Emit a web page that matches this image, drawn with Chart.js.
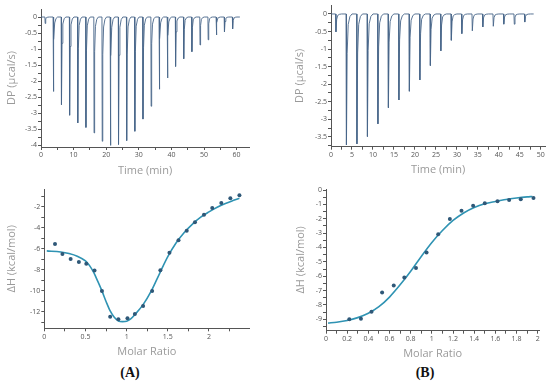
<!DOCTYPE html>
<html>
<head>
<meta charset="utf-8">
<script src="https://cdn.jsdelivr.net/npm/chart.js@4.4.0/dist/chart.umd.min.js"></script>
<style>
  body { margin: 0; background: #fff; width: 550px; height: 385px; position: relative; overflow: hidden; }
  canvas { position: absolute; }
  .tag { position: absolute; font: bold 14px "Liberation Serif", serif; color: #111; transform: translate(-50%, -50%); }
</style>
</head>
<body>
<canvas id="rawA" width="260" height="180" style="left:0;top:0"></canvas>
<canvas id="rawB" width="280" height="180" style="left:270px;top:0"></canvas>
<canvas id="isoA" width="260" height="185" style="left:0;top:180px"></canvas>
<canvas id="isoB" width="260" height="185" style="left:290px;top:180px"></canvas>
<div class="tag" style="left:130px;top:373px">(A)</div>
<div class="tag" style="left:425px;top:373px">(B)</div>
<script>
// Raw thermograms: injection times (min) and peak heights (µcal/s)
const rawATimes = [1.2, 3.7, 6.2, 8.7, 11.2, 13.7, 16.2, 18.7, 21.2, 23.7, 26.2, 28.7,
                   31.2, 33.7, 36.2, 38.7, 41.2, 43.7, 46.2, 48.7, 51.2, 53.7, 56.2, 58.7];
const rawADepths = [-0.2, -2.32, -2.73, -3.06, -3.3, -3.44, -3.61, -3.87, -4.0, -3.97, -3.85, -3.56,
                    -3.18, -2.78, -2.25, -1.9, -1.54, -1.3, -1.08, -0.87, -0.71, -0.56, -0.46, -0.37];
const rawBTimes = [1.1, 3.6, 6.1, 8.6, 11.1, 13.6, 16.1, 18.6, 21.1, 23.6,
                   26.1, 28.6, 31.1, 33.6, 36.1, 38.6, 41.1, 43.6, 46.1];
const rawBDepths = [-0.51, -3.73, -3.7, -3.49, -3.13, -2.67, -2.45, -2.2, -1.88, -1.47,
                    -1.05, -0.75, -0.56, -0.48, -0.37, -0.35, -0.29, -0.29, -0.23];
// shape of one injection peak: [minutes after injection, fraction of peak height]
const spikeShape = [[0, 0], [0.08, 1], [0.25, 0.3], [0.5, 0.08], [0.9, 0.02], [1.4, 0]];

// Integrated heats
const isoARatio = [0.13, 0.22, 0.32, 0.42, 0.51, 0.61, 0.70, 0.80, 0.90, 1.01, 1.10, 1.20,
                   1.31, 1.41, 1.52, 1.63, 1.73, 1.83, 1.94, 2.04, 2.15, 2.26, 2.37];
const isoAHeat = [-5.54, -6.49, -6.97, -7.25, -7.41, -8.07, -10.0, -12.45, -12.7, -12.6, -12.19, -11.43,
                  -10.0, -8.04, -6.37, -5.19, -4.28, -3.48, -2.76, -2.12, -1.65, -1.2, -0.92];
const fitARatio = [0.03, 0.2, 0.3, 0.4, 0.5, 0.55, 0.6, 0.65, 0.7, 0.75, 0.8, 0.85, 0.9, 0.95, 1.0,
                   1.05, 1.1, 1.2, 1.3, 1.4, 1.5, 1.6, 1.7, 1.8, 1.9, 2.0, 2.1, 2.2, 2.3, 2.37];
const fitAHeat = [-6.2, -6.3, -6.45, -6.7, -7.15, -7.6, -8.25, -9.1, -10.0, -11.0, -11.9, -12.5, -12.85, -12.92, -12.88,
                  -12.65, -12.25, -11.3, -10.0, -8.35, -6.75, -5.45, -4.45, -3.65, -3.0, -2.5, -2.05, -1.7, -1.4, -1.2];

const isoBRatio = [0.22, 0.33, 0.43, 0.53, 0.64, 0.74, 0.85, 0.95, 1.06, 1.17, 1.28, 1.39, 1.50, 1.62, 1.73, 1.84, 1.96];
const isoBHeat = [-9.0, -8.96, -8.47, -7.13, -6.64, -6.09, -5.42, -4.35, -3.08, -2.01, -1.44, -1.09, -0.93, -0.79, -0.69, -0.65, -0.56];
const fitBRatio = [0.02, 0.1, 0.2, 0.3, 0.4, 0.5, 0.6, 0.7, 0.8, 0.9, 1.0, 1.1, 1.2, 1.3, 1.4, 1.5, 1.6, 1.7, 1.8, 1.9, 1.95];
const fitBHeat = [-9.26, -9.2, -9.08, -8.88, -8.58, -8.12, -7.45, -6.6, -5.65, -4.62, -3.65, -2.82, -2.12, -1.6, -1.22, -0.96, -0.8, -0.66, -0.56, -0.48, -0.45];

// Axis ticks (all marks) and the ones that carry a label
const rawAXTicks = [0, 5, 10, 15, 20, 25, 30, 35, 40, 45, 50, 55, 60];
const rawAXLabels = [0, 10, 20, 30, 40, 50, 60];
const rawAYTicks = [0, -0.25, -0.5, -0.75, -1, -1.25, -1.5, -1.75, -2, -2.25, -2.5, -2.75, -3, -3.25, -3.5, -3.75, -4];
const rawAYLabels = [0, -0.5, -1, -1.5, -2, -2.5, -3, -3.5, -4];
const rawBXTicks = [0, 2.5, 5, 7.5, 10, 12.5, 15, 17.5, 20, 22.5, 25, 27.5, 30, 32.5, 35, 37.5, 40, 42.5, 45, 47.5, 50];
const rawBXLabels = [0, 5, 10, 15, 20, 25, 30, 35, 40, 45, 50];
const rawBYTicks = [0, -0.25, -0.5, -0.75, -1, -1.25, -1.5, -1.75, -2, -2.25, -2.5, -2.75, -3, -3.25, -3.5, -3.75];
const rawBYLabels = [0, -0.5, -1, -1.5, -2, -2.5, -3, -3.5];
const isoAXTicks = [0, 0.25, 0.5, 0.75, 1, 1.25, 1.5, 1.75, 2, 2.25];
const isoAXLabels = [0, 0.5, 1, 1.5, 2];
const isoAYTicks = [-1, -2, -3, -4, -5, -6, -7, -8, -9, -10, -11, -12, -13];
const isoAYLabels = [-2, -4, -6, -8, -10, -12];
const isoBXTicks = [0, 0.1, 0.2, 0.3, 0.4, 0.5, 0.6, 0.7, 0.8, 0.9, 1, 1.1, 1.2, 1.3, 1.4, 1.5, 1.6, 1.7, 1.8, 1.9, 2];
const isoBXLabels = [0, 0.2, 0.4, 0.6, 0.8, 1, 1.2, 1.4, 1.6, 1.8, 2];
const isoBYTicks = [0, -0.5, -1, -1.5, -2, -2.5, -3, -3.5, -4, -4.5, -5, -5.5, -6, -6.5, -7, -7.5, -8, -8.5, -9, -9.5];
const isoBYLabels = [0, -1, -2, -3, -4, -5, -6, -7, -8, -9];

const axisColor = '#555';
const tickFont = { family: 'Open Sans', size: 7 };
const titleFont = { family: 'Open Sans', size: 11 };

function buildTrace(times, depths, end) {
    const pts = [{ x: 0, y: 0 }];
    times.forEach((t, i) => {
        spikeShape.forEach(([dt, f]) => pts.push({ x: t + dt, y: depths[i] * f }));
    });
    pts.push({ x: end, y: 0 });
    return pts;
}

function pairs(xs, ys) {
    return xs.map((x, i) => ({ x: x, y: ys[i] }));
}

function axis(o) {
    return {
        type: 'linear',
        min: o.min,
        max: o.max,
        afterBuildTicks: scale => { scale.ticks = o.ticks.map(v => ({ value: v })); },
        afterFit: scale => {
            if (o.width) scale.width = o.width;
            if (o.height) scale.height = o.height;
        },
        ticks: {
            autoSkip: false,
            maxRotation: 0,
            padding: 1,
            color: axisColor,
            font: tickFont,
            callback: v => o.labels.some(l => Math.abs(l - v) < 1e-9) ? String(v) : ''
        },
        grid: { drawOnChartArea: false, drawTicks: true, tickLength: 3, color: axisColor },
        border: { display: true, color: axisColor, width: 1 },
        title: {
            display: true,
            text: o.title,
            color: '#9a9a9a',
            font: titleFont,
            padding: o.titlePad
        }
    };
}

function makeChart(id, datasets, xOpts, yOpts, pad) {
    return new Chart(document.getElementById(id), {
        type: 'line',
        data: { datasets: datasets },
        options: {
            responsive: false,
            animation: false,
            layout: { padding: pad },
            plugins: { legend: { display: false }, tooltip: { enabled: false } },
            scales: { x: axis(xOpts), y: axis(yOpts) }
        }
    });
}

function rawDataset(points) {
    return {
        data: points,
        borderColor: 'rgba(72, 102, 138, 0.9)',
        borderWidth: 1,
        pointRadius: 0,
        tension: 0,
        fill: false
    };
}

function isoDatasets(rx, hy, fx, fy) {
    return [
        { data: pairs(rx, hy), showLine: false, pointRadius: 2, pointBackgroundColor: '#2f5878',
          pointBorderWidth: 0, order: 0 },
        { data: pairs(fx, fy), borderColor: '#2f93b3', borderWidth: 1.6, pointRadius: 0,
          tension: 0.4, cubicInterpolationMode: 'monotone', fill: false, order: 1 }
    ];
}

makeChart('rawA', [rawDataset(buildTrace(rawATimes, rawADepths, 61))],
    { min: 0, max: 63.8, ticks: rawAXTicks, labels: rawAXLabels, height: 33, title: 'Time (min)', titlePad: { top: 0, bottom: 3 } },
    { min: -4.05, max: 0.25, ticks: rawAYTicks, labels: rawAYLabels, width: 41, title: 'DP (\u00b5cal/s)', titlePad: { top: 5, bottom: 0 } },
    { top: 9, right: 11, bottom: 0, left: 0 });

makeChart('rawB', [rawDataset(buildTrace(rawBTimes, rawBDepths, 48.3))],
    { min: 0, max: 51, ticks: rawBXTicks, labels: rawBXLabels, height: 33.3, title: 'Time (min)', titlePad: { top: 0, bottom: 4 } },
    { min: -3.78, max: 0.25, ticks: rawBYTicks, labels: rawBYLabels, width: 61, title: 'DP (\u00b5cal/s)', titlePad: { top: 23, bottom: 0 } },
    { top: 5, right: 5, bottom: 0, left: 0 });

makeChart('isoA', isoDatasets(isoARatio, isoAHeat, fitARatio, fitAHeat),
    { min: 0, max: 2.49, ticks: isoAXTicks, labels: isoAXLabels, height: 36.7, title: 'Molar Ratio', titlePad: { top: 0, bottom: 7 } },
    { min: -13.55, max: -0.35, ticks: isoAYTicks, labels: isoAYLabels, width: 44.3, title: '\u0394H (kcal/mol)', titlePad: { top: 5, bottom: 0 } },
    { top: 9.3, right: 10.7, bottom: 0, left: 0 });

makeChart('isoB', isoDatasets(isoBRatio, isoBHeat, fitBRatio, fitBHeat),
    { min: 0, max: 2.015, ticks: isoBXTicks, labels: isoBXLabels, height: 34.3, title: 'Molar Ratio', titlePad: { top: 0, bottom: 5 } },
    { min: -9.79, max: 0.07, ticks: isoBYTicks, labels: isoBYLabels, width: 36, title: '\u0394H (kcal/mol)', titlePad: { top: 4, bottom: 0 } },
    { top: 9, right: 10.7, bottom: 0, left: 0 });
</script>
</body>
</html>
